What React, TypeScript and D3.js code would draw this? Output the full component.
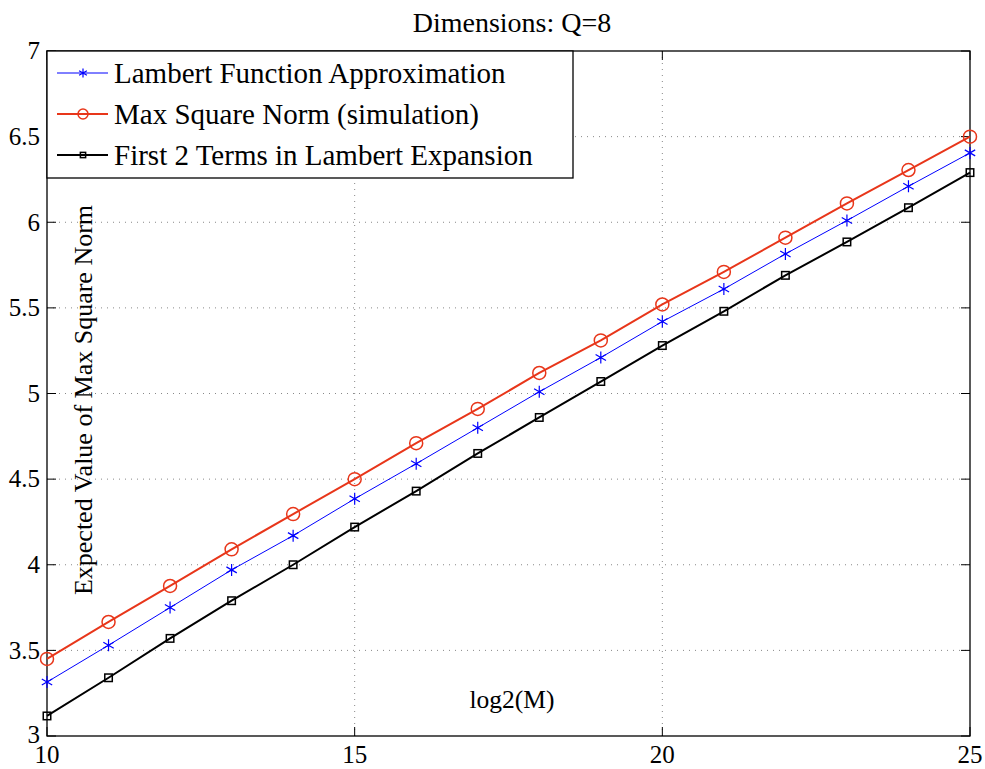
import React, { useEffect, useRef } from 'react';
import * as d3 from 'd3';

const xValues = [10, 11, 12, 13, 14, 15, 16, 17, 18, 19, 20, 21, 22, 23, 24, 25];
const lambertApprox = [3.315, 3.53, 3.75, 3.97, 4.17, 4.385, 4.59, 4.8, 5.01, 5.21, 5.42, 5.61, 5.815, 6.01, 6.21, 6.405];
const maxSquareSim = [3.45, 3.666, 3.876, 4.09, 4.296, 4.5, 4.71, 4.91, 5.12, 5.31, 5.52, 5.71, 5.91, 6.11, 6.305, 6.5];
const firstTwoTerms = [3.117, 3.34, 3.57, 3.79, 4.0, 4.22, 4.43, 4.65, 4.86, 5.07, 5.28, 5.48, 5.69, 5.885, 6.085, 6.29];
const xTicks = [10, 15, 20, 25];
const yTicks = [3, 3.5, 4, 4.5, 5, 5.5, 6, 6.5, 7];

const seriesList = [
  { name: 'Lambert Function Approximation', values: lambertApprox, color: '#0000ff', width: 1, marker: 'star' },
  { name: 'Max Square Norm (simulation)', values: maxSquareSim, color: '#e8361a', width: 2, marker: 'circle' },
  { name: 'First 2 Terms in Lambert Expansion', values: firstTwoTerms, color: '#000000', width: 2, marker: 'square' },
];

const FONT = '"Liberation Serif", "DejaVu Serif", serif';

const App = () => {
  const svgRef = useRef<SVGSVGElement>(null);

  useEffect(() => {
    const width = 985;
    const height = 769;
    const margin = { top: 51, right: 15, bottom: 33, left: 47 };
    const innerWidth = width - margin.left - margin.right;
    const innerHeight = height - margin.top - margin.bottom;

    const svg = d3.select(svgRef.current);
    svg.selectAll('*').remove();
    svg.attr('width', width).attr('height', height);

    svg.append('rect').attr('width', width).attr('height', height).attr('fill', 'white');

    const g = svg.append('g').attr('transform', `translate(${margin.left},${margin.top})`);

    const x = d3.scaleLinear().domain([10, 25]).range([0, innerWidth]);
    const y = d3.scaleLinear().domain([3, 7]).range([innerHeight, 0]);

    // dotted grid
    g.append('g')
      .selectAll('line')
      .data(yTicks.slice(1, -1))
      .enter()
      .append('line')
      .attr('x1', 0)
      .attr('x2', innerWidth)
      .attr('y1', d => y(d))
      .attr('y2', d => y(d))
      .attr('stroke', '#888')
      .attr('stroke-width', 1)
      .attr('stroke-dasharray', '1,5');
    g.append('g')
      .selectAll('line')
      .data(xTicks.slice(1, -1))
      .enter()
      .append('line')
      .attr('x1', d => x(d))
      .attr('x2', d => x(d))
      .attr('y1', 0)
      .attr('y2', innerHeight)
      .attr('stroke', '#888')
      .attr('stroke-width', 1)
      .attr('stroke-dasharray', '1,5');

    // axes box and inward ticks
    const tickLen = 9;
    g.append('rect')
      .attr('width', innerWidth)
      .attr('height', innerHeight)
      .attr('fill', 'none')
      .attr('stroke', '#000')
      .attr('stroke-width', 1.3);

    yTicks.forEach(t => {
      g.append('line').attr('x1', 0).attr('x2', tickLen).attr('y1', y(t)).attr('y2', y(t)).attr('stroke', '#000');
      g.append('line').attr('x1', innerWidth - tickLen).attr('x2', innerWidth).attr('y1', y(t)).attr('y2', y(t)).attr('stroke', '#000');
      g.append('text')
        .attr('x', -7)
        .attr('y', y(t) + (t === 3 ? -1 : 0))
        .attr('dy', '0.33em')
        .attr('text-anchor', 'end')
        .attr('font-family', FONT)
        .attr('font-size', 25)
        .text(d3.format('~g')(t));
    });
    xTicks.forEach(t => {
      g.append('line').attr('x1', x(t)).attr('x2', x(t)).attr('y1', innerHeight).attr('y2', innerHeight - tickLen).attr('stroke', '#000');
      g.append('line').attr('x1', x(t)).attr('x2', x(t)).attr('y1', 0).attr('y2', tickLen).attr('stroke', '#000');
      g.append('text')
        .attr('x', x(t))
        .attr('y', innerHeight + 27)
        .attr('text-anchor', 'middle')
        .attr('font-family', FONT)
        .attr('font-size', 25)
        .text(t);
    });

    const drawMarker = (sel: any, type: string, color: string, s: number) => {
      if (type === 'circle') {
        sel.append('circle').attr('r', s).attr('fill', 'none').attr('stroke', color).attr('stroke-width', 1.5);
      } else if (type === 'square') {
        sel.append('rect')
          .attr('x', -s * 0.75)
          .attr('y', -s * 0.75)
          .attr('width', s * 1.5)
          .attr('height', s * 1.5)
          .attr('fill', 'none')
          .attr('stroke', color)
          .attr('stroke-width', 1.5);
      } else {
        const r = s;
        const p = [0, 60, 120].map(a => {
          const rad = (a * Math.PI) / 180;
          return `M${-r * Math.sin(rad)},${-r * Math.cos(rad)}L${r * Math.sin(rad)},${r * Math.cos(rad)}`;
        });
        sel.append('path').attr('d', p.join('')).attr('stroke', color).attr('stroke-width', 1.2);
      }
    };

    const line = d3.line<number>()
      .x((_, i) => x(xValues[i]))
      .y(d => y(d));

    seriesList.forEach(s => {
      g.append('path')
        .datum(s.values)
        .attr('fill', 'none')
        .attr('stroke', s.color)
        .attr('stroke-width', s.width)
        .attr('d', line);
      const pts = g.selectAll(null)
        .data(s.values)
        .enter()
        .append('g')
        .attr('transform', (d, i) => `translate(${x(xValues[i])},${y(d)})`);
      drawMarker(pts, s.marker, s.color, s.marker === 'circle' ? 6.5 : s.marker === 'square' ? 5 : 6);
    });

    // legend
    const legend = g.append('g');
    legend.append('rect')
      .attr('x', 0)
      .attr('y', 0)
      .attr('width', 526)
      .attr('height', 127)
      .attr('fill', 'white')
      .attr('stroke', '#000')
      .attr('stroke-width', 1.3);
    seriesList.forEach((s, i) => {
      const ly = 22 + i * 41;
      legend.append('line')
        .attr('x1', 10)
        .attr('x2', 61)
        .attr('y1', ly)
        .attr('y2', ly)
        .attr('stroke', s.color)
        .attr('stroke-width', s.width);
      const m = legend.append('g').attr('transform', `translate(36,${ly})`);
      drawMarker(m, s.marker, s.color, s.marker === 'circle' ? 5 : s.marker === 'square' ? 3.5 : 4.5);
      legend.append('text')
        .attr('x', 67)
        .attr('y', ly)
        .attr('dy', '0.33em')
        .attr('font-family', FONT)
        .attr('font-size', 29)
        .text(s.name);
    });

    // labels
    svg.append('text')
      .attr('x', 512)
      .attr('y', 32)
      .attr('text-anchor', 'middle')
      .attr('font-family', FONT)
      .attr('font-size', 28)
      .text('Dimensions: Q=8');
    svg.append('text')
      .attr('x', 512)
      .attr('y', 708)
      .attr('text-anchor', 'middle')
      .attr('font-family', FONT)
      .attr('font-size', 25.5)
      .text('log2(M)');
    svg.append('text')
      .attr('transform', `translate(92,400) rotate(-90)`)
      .attr('text-anchor', 'middle')
      .attr('font-family', FONT)
      .attr('font-size', 26)
      .text('Expected Value of Max Square Norm');
  }, []);

  return <svg ref={svgRef} style={{ display: 'block', position: 'absolute', left: 0, top: 0 }} />;
};

export default App;
